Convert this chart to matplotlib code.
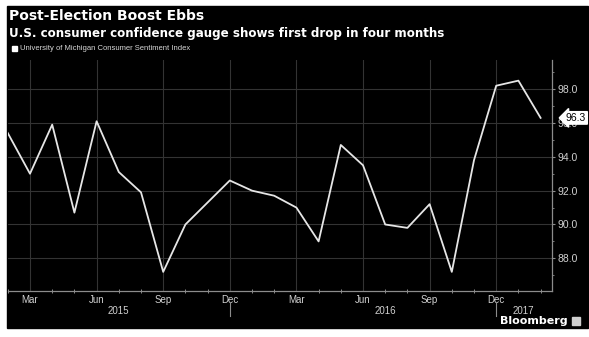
import matplotlib.pyplot as plt
from matplotlib.patches import Rectangle
import matplotlib.transforms as mtransforms

# Feb 2015 .. Feb 2017, monthly
values = [95.4, 93.0, 95.9, 90.7, 96.1, 93.1, 91.9, 87.2, 90.0, 91.3, 92.6,
          92.0, 91.7, 91.0, 89.0, 94.7, 93.5, 90.0, 89.8, 91.2, 87.2, 93.8,
          98.2, 98.5, 96.3]
month_ticks = [1, 4, 7, 10, 13, 16, 19, 22]
month_labels = ["Mar", "Jun", "Sep", "Dec", "Mar", "Jun", "Sep", "Dec"]
years = ["2015", "2016", "2017"]
year_pos = [5, 17, 23.2]
year_breaks = [10, 22]
y_ticks = [88, 90, 92, 94, 96, 98]

W, H = 589, 337
fig = plt.figure(figsize=(W / 100, H / 100), dpi=100)
fig.patch.set_facecolor("white")
fig.patches.append(Rectangle((7 / W, 1 - 328 / H), 581 / W, 322 / H,
                             transform=fig.transFigure, color="black", zorder=-1))

left, right, top, bottom = 7.8, 551.7, 60, 291
ax = fig.add_axes([left / W, 1 - bottom / H, (right - left) / W, (bottom - top) / H])
ax.set_facecolor("black")

x = list(range(len(values)))
ax.plot(x, values, color="#e6e6e6", lw=1.3, zorder=3)

ax.set_xlim(0, 24.5)
ax.set_ylim(86.07, 99.72)

ax.set_xticks(month_ticks)
ax.set_xticklabels(month_labels)
ax.set_xticks(range(0, 25), minor=True)
ax.set_yticks(y_ticks)
ax.set_yticklabels([f"{v:.1f}" for v in y_ticks])
ax.set_yticks(range(87, 100), minor=True)
ax.yaxis.tick_right()

ax.grid(True, which="major", color="#333333", lw=0.8)
for s in ["top", "left"]:
    ax.spines[s].set_visible(False)
for s in ["bottom", "right"]:
    ax.spines[s].set_color("#8c8c8c")
    ax.spines[s].set_linewidth(0.9)

ax.tick_params(axis="x", which="major", length=0, pad=3, labelsize=7,
               labelcolor="#d0d0d0")
ax.tick_params(axis="x", which="minor", length=2.5, direction="inout",
               color="#8c8c8c", width=0.7)
ax.tick_params(axis="y", which="major", length=2.5, pad=1.5, labelsize=7.5,
               labelcolor="#d0d0d0", color="#8c8c8c")
ax.tick_params(axis="y", which="minor", length=1.5, color="#8c8c8c")
for lab in ax.get_xticklabels() + ax.get_yticklabels():
    lab.set_family("Liberation Sans")

trans = mtransforms.blended_transform_factory(ax.transData, ax.transAxes)
for xb in year_breaks:
    ax.plot([xb, xb], [-0.048, -0.108], color="#8c8c8c", lw=0.8,
            transform=trans, clip_on=False)
for yr, xp in zip(years, year_pos):
    ax.text(xp, -0.085, yr, transform=trans, ha="center", va="center",
            fontsize=7, color="#d0d0d0", family="Liberation Sans")

# last value tag
ax.annotate(f"{values[-1]:.1f}", xy=(1.0, values[-1]),
            xycoords=("axes fraction", "data"),
            xytext=(1.026, values[-1]), textcoords=("axes fraction", "data"),
            ha="left", va="center", fontsize=7.5, color="black",
            family="Liberation Sans", annotation_clip=False, zorder=6,
            bbox=dict(boxstyle="larrow,pad=0.12", fc="white", ec="white"))

fig.text(9 / W, 1 - 16 / H, "Post-Election Boost Ebbs", color="white",
         fontsize=10, fontweight="bold", va="center", ha="left")
fig.text(9 / W, 1 - 33 / H, "U.S. consumer confidence gauge shows first drop in four months",
         color="white", fontsize=8.6, fontweight="bold", va="center", ha="left")
fig.patches.append(Rectangle((12 / W, 1 - 51 / H), 5 / W, 5 / H,
                             transform=fig.transFigure, color="white"))
fig.text(20 / W, 1 - 48.5 / H, "University of Michigan Consumer Sentiment Index",
         color="#d8d8d8", fontsize=5.5, va="center", ha="left",
         family="Liberation Sans")
fig.text(568 / W, 1 - 321 / H, "Bloomberg", color="white", fontsize=8,
         fontweight="bold", va="center", ha="right")
fig.patches.append(Rectangle((572 / W, 1 - 325 / H), 8 / W, 8 / H,
                             transform=fig.transFigure, color="#cfcfcf"))

fig.savefig("out.png", dpi=100, facecolor=fig.get_facecolor())
